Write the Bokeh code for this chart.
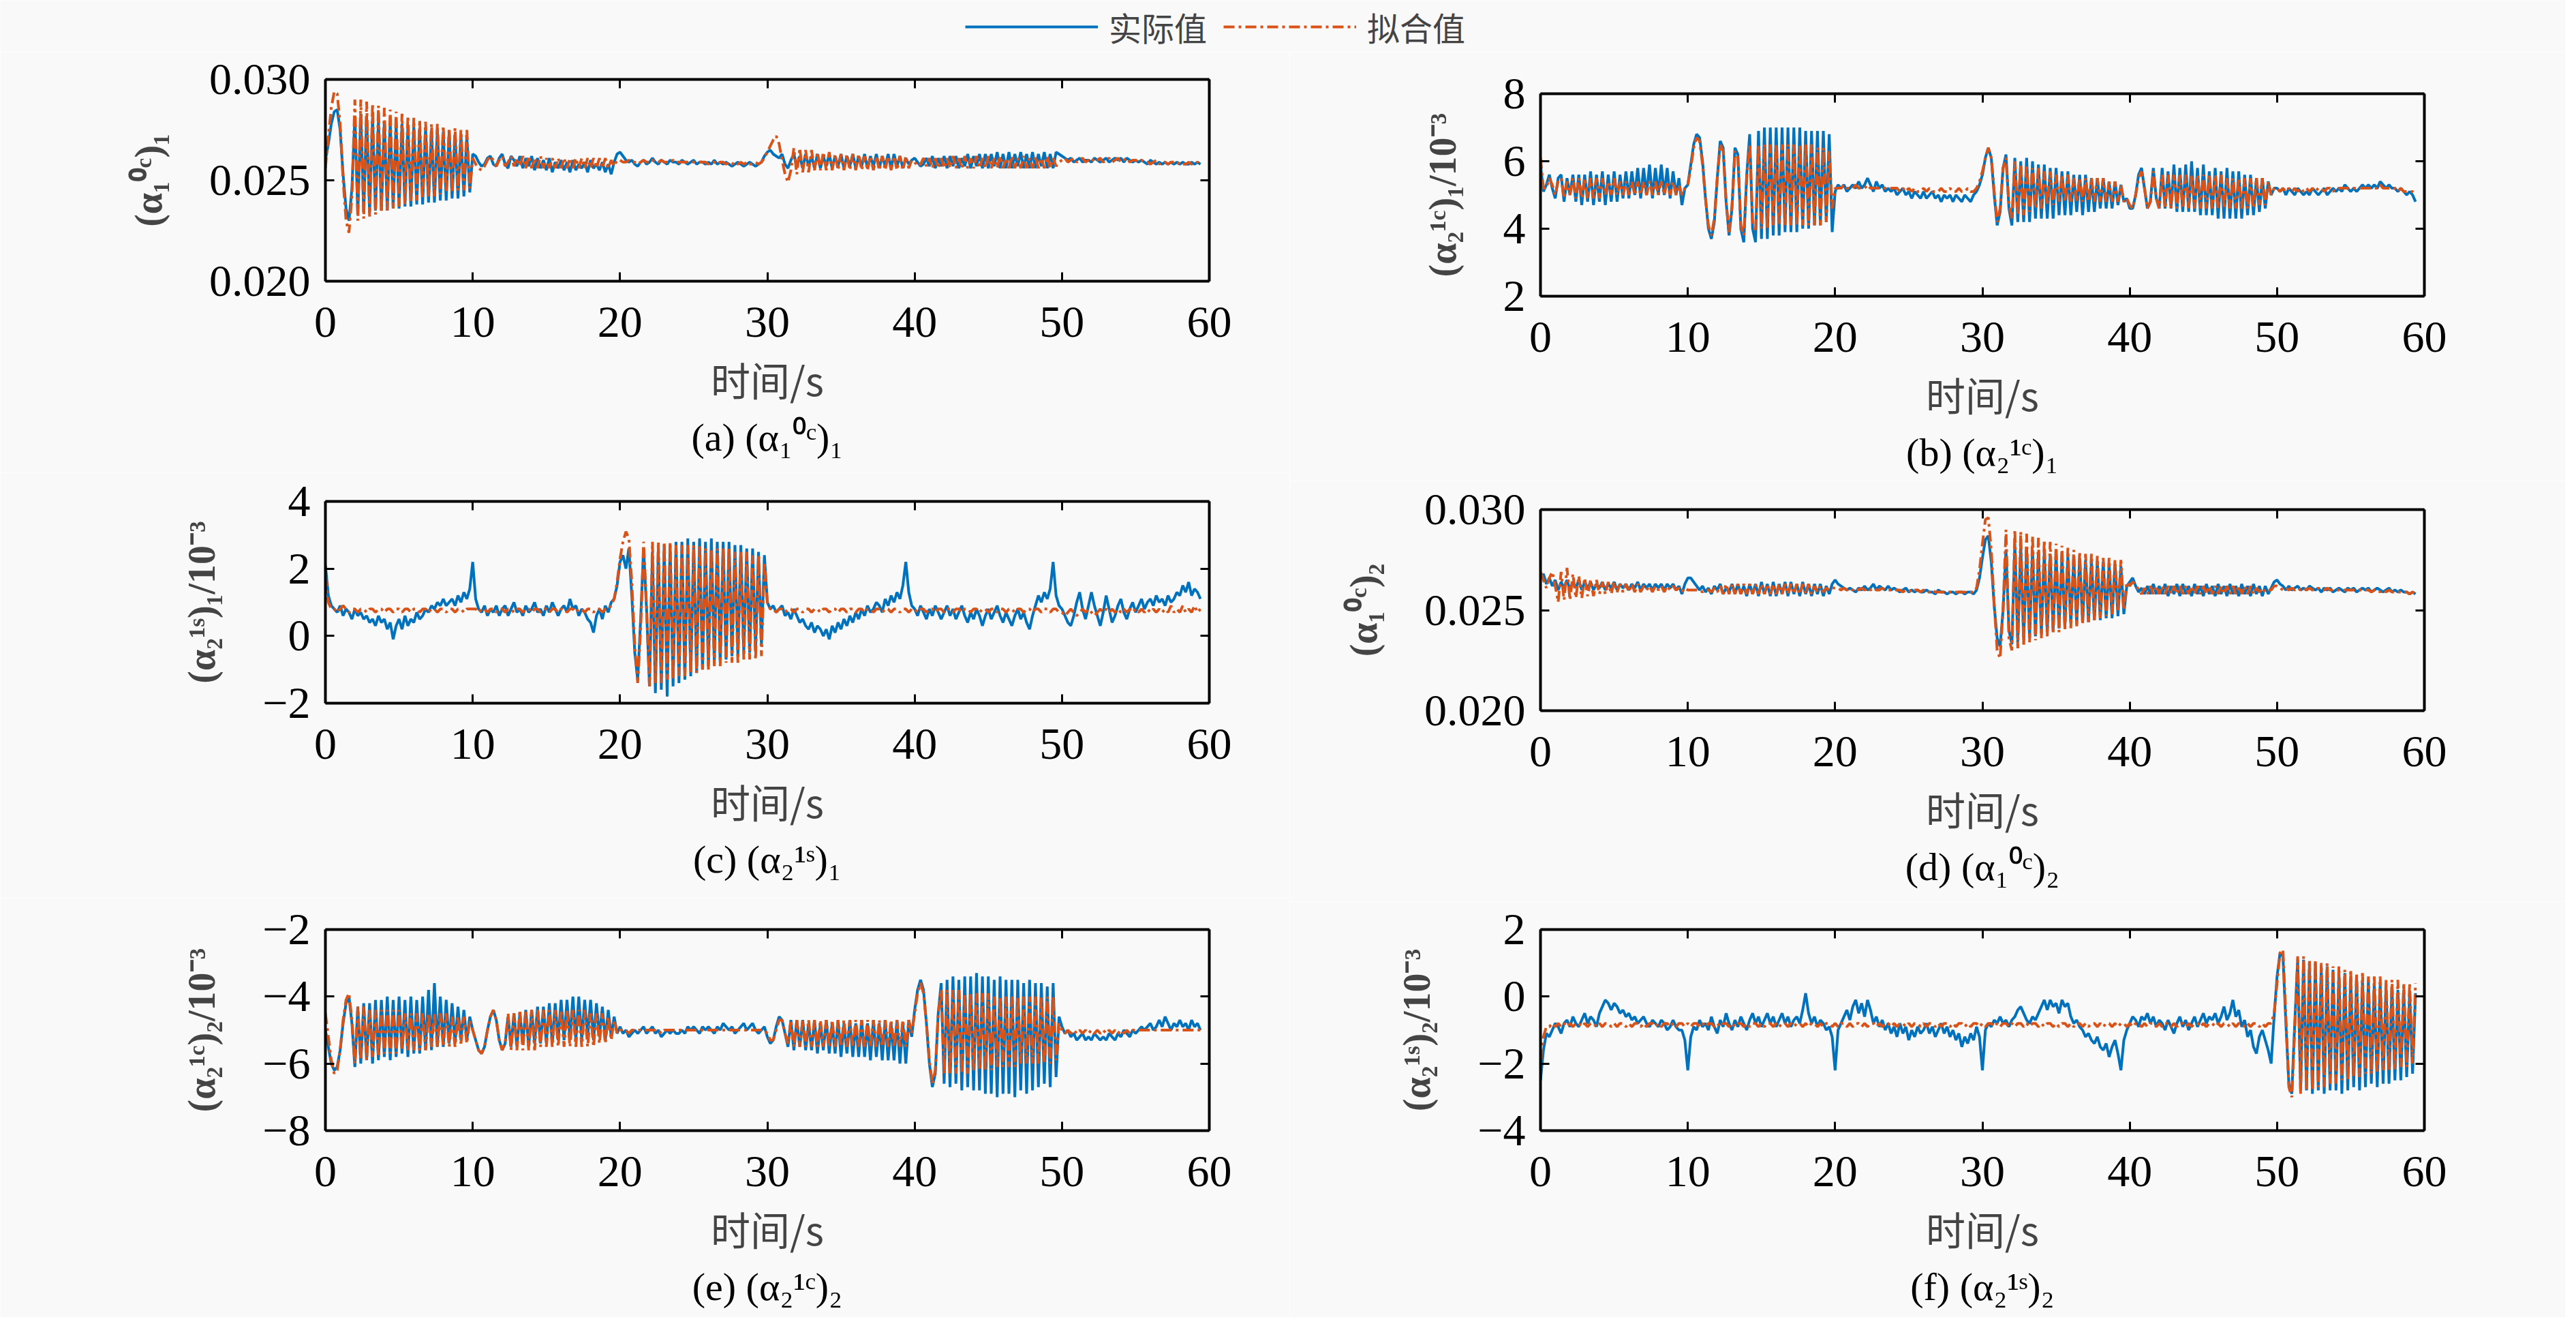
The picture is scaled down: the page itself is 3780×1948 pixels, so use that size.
import numpy as np
from bokeh.plotting import figure
from bokeh.models import (LinearAxis, FixedTicker, NumeralTickFormatter, Range1d,
                          Title, Legend, LegendItem)
from bokeh.layouts import column, row
from bokeh.embed import file_html
from bokeh.resources import INLINE

# traces on a 0.2 s grid, values in units of 1e-3
DT = 0.2

a_act = [
    26.0, 26.8, 27.8, 28.4, 28.5, 27.5, 25.3, 23.6, 23.0, 24.6,
    28.2, 23.3, 28.3, 23.4, 28.2, 23.4, 28.1, 23.5, 28.0, 23.5,
    27.9, 23.5, 27.9, 23.6, 27.8, 23.6, 27.8, 23.7, 27.7, 23.7,
    27.7, 23.8, 27.6, 23.8, 27.6, 23.9, 27.5, 23.9, 27.5, 24.0,
    27.4, 24.0, 27.4, 24.1, 27.3, 24.1, 27.3, 24.2, 27.2, 24.4,
    26.3, 26.2, 25.9, 25.7, 25.8, 26.1, 26.2, 25.8, 25.7, 26.1,
    26.3, 25.8, 25.6, 26.2, 26.0, 25.7, 26.2, 25.6, 26.1, 25.7,
    26.2, 25.5, 26.1, 25.6, 26.0, 25.5, 26.1, 25.4, 25.9, 25.6,
    26.0, 25.5, 25.9, 25.4, 26.0, 25.5, 25.8, 25.6, 25.9, 25.4,
    26.0, 25.6, 25.8, 25.5, 25.9, 25.4, 25.8, 25.3, 25.9, 26.3,
    26.4, 26.2, 26.0, 25.9, 26.0, 25.8, 25.7, 25.9, 26.0, 25.8,
    25.9, 26.1, 25.9, 25.8, 26.0, 25.9, 25.8, 26.0, 25.9, 25.9,
    25.8, 26.0, 25.9, 25.8, 25.9, 26.0, 25.8, 25.9, 25.9, 25.8,
    25.9, 25.8, 26.0, 25.8, 25.9, 25.8, 25.9, 25.8, 25.7, 25.8,
    25.9, 25.8, 25.7, 25.8, 25.9, 25.8, 25.7, 25.8, 25.9, 26.2,
    26.4, 26.5, 26.3, 26.2, 26.1, 26.3, 25.8, 25.6, 26.0, 26.3,
    25.7, 26.2, 25.6, 26.3, 25.7, 26.2, 25.6, 26.3, 25.6, 26.2,
    25.7, 26.3, 25.6, 26.2, 25.7, 26.3, 25.6, 26.2, 25.7, 26.3,
    25.6, 26.2, 25.7, 26.3, 25.6, 26.2, 25.7, 26.3, 25.6, 26.2,
    25.7, 26.3, 25.6, 26.3, 25.7, 26.2, 25.6, 26.1, 25.8, 26.0,
    26.1, 25.9, 25.7, 25.8, 26.1, 25.7, 26.2, 25.6, 26.1, 25.7,
    26.2, 25.6, 26.2, 25.7, 26.2, 25.6, 26.1, 25.7, 26.3, 25.6,
    26.2, 25.7, 26.3, 25.6, 26.3, 25.6, 26.3, 25.7, 26.4, 25.6,
    26.3, 25.6, 26.4, 25.6, 26.3, 25.7, 26.4, 25.6, 26.3, 25.6,
    26.4, 25.6, 26.3, 25.7, 26.4, 25.6, 26.3, 25.6, 26.4, 26.3,
    26.2, 26.1, 26.0, 26.1, 25.9, 26.0, 26.1, 25.9, 26.0, 26.0,
    25.9, 26.1, 26.0, 25.9, 26.0, 26.1, 25.9, 26.0, 26.1, 26.0,
    26.1, 25.9, 26.1, 26.0, 25.9, 26.0, 25.9, 26.0, 25.9, 25.8,
    26.0, 25.9, 25.8, 25.9, 25.8, 25.9, 25.8, 25.9, 25.8, 25.9,
    25.8, 25.9, 25.8, 25.8, 25.9, 25.8, 25.9, 25.8,
]
a_fit = [
    25.6, 27.2, 28.6, 29.4, 29.3, 27.8, 25.0, 23.0, 22.4, 24.2,
    29.0, 23.0, 29.0, 23.1, 28.9, 23.2, 28.8, 23.3, 28.7, 23.4,
    28.6, 23.5, 28.5, 23.6, 28.4, 23.7, 28.3, 23.8, 28.2, 23.9,
    28.1, 24.0, 28.0, 24.1, 27.9, 24.2, 27.8, 24.2, 27.8, 24.3,
    27.7, 24.4, 27.6, 24.4, 27.6, 24.5, 27.5, 24.5, 27.5, 24.6,
    26.1, 25.8, 25.6, 25.5, 25.7, 26.0, 26.2, 26.0, 25.7, 26.0,
    26.2, 25.7, 25.9, 26.2, 25.7, 26.1, 25.7, 26.2, 25.6, 26.2,
    25.6, 26.1, 25.6, 26.2, 25.6, 26.1, 25.6, 26.1, 25.6, 26.1,
    25.6, 26.1, 25.6, 26.1, 25.6, 26.1, 25.6, 26.1, 25.6, 26.1,
    25.6, 26.1, 25.6, 26.1, 25.6, 26.1, 25.6, 26.0, 25.7, 26.0,
    26.0, 25.9, 25.9, 26.0, 25.9, 25.9, 25.8, 25.9, 26.0, 25.9,
    25.9, 26.0, 25.9, 25.9, 26.0, 25.9, 25.9, 25.9, 26.0, 25.9,
    25.9, 25.9, 25.9, 25.9, 25.9, 25.9, 25.9, 25.9, 25.9, 25.9,
    25.8, 25.9, 25.9, 25.8, 25.9, 25.9, 25.8, 25.9, 25.8, 25.9,
    25.8, 25.9, 25.8, 25.9, 25.8, 25.8, 25.9, 25.8, 25.9, 26.1,
    26.4, 26.7, 27.0, 27.2, 26.8, 26.0, 25.3, 24.9, 25.5, 26.6,
    25.3, 26.6, 25.4, 26.5, 25.4, 26.5, 25.5, 26.4, 25.5, 26.4,
    25.5, 26.4, 25.5, 26.3, 25.5, 26.3, 25.5, 26.3, 25.5, 26.3,
    25.5, 26.3, 25.5, 26.2, 25.5, 26.2, 25.5, 26.2, 25.5, 26.2,
    25.5, 26.2, 25.5, 26.2, 25.5, 26.2, 25.5, 26.2, 25.6, 26.0,
    25.9, 25.7, 25.8, 26.1, 25.7, 26.1, 25.6, 26.1, 25.6, 26.1,
    25.6, 26.1, 25.6, 26.2, 25.6, 26.1, 25.6, 26.2, 25.6, 26.1,
    25.6, 26.2, 25.6, 26.1, 25.6, 26.2, 25.6, 26.1, 25.6, 26.2,
    25.6, 26.1, 25.6, 26.2, 25.6, 26.1, 25.6, 26.2, 25.6, 26.1,
    25.6, 26.2, 25.6, 26.1, 25.6, 26.2, 25.6, 26.1, 25.7, 25.9,
    26.0, 26.1, 25.9, 26.0, 26.1, 25.9, 26.0, 26.1, 25.9, 26.0,
    26.1, 25.9, 26.0, 26.1, 25.9, 26.0, 26.1, 25.9, 26.0, 26.1,
    25.9, 26.0, 26.1, 25.9, 26.0, 26.0, 25.9, 26.0, 25.9, 25.9,
    25.8, 25.9, 26.0, 25.8, 25.9, 25.9, 25.8, 25.9, 25.9, 25.8,
    25.9, 25.8, 25.8, 25.9, 25.8, 25.8, 25.9, 25.8,
]

b_act = [
    5.9, 5.1, 5.3, 5.6, 5.2, 4.9, 5.5, 5.6, 4.8, 5.5,
    5.0, 5.6, 4.8, 5.6, 4.7, 5.6, 4.8, 5.7, 4.7, 5.6,
    4.8, 5.7, 4.7, 5.6, 4.8, 5.7, 4.8, 5.6, 4.9, 5.7,
    4.9, 5.7, 5.0, 5.8, 4.9, 5.8, 5.0, 5.9, 4.9, 5.8,
    5.0, 5.9, 5.0, 5.8, 4.9, 5.7, 5.0, 5.5, 4.7, 5.2,
    5.3, 5.9, 6.5, 6.8, 6.7, 6.0, 4.9, 4.0, 3.7, 4.2,
    5.5, 6.6, 6.4, 4.8, 3.8, 4.6, 6.4, 6.2, 4.0, 3.6,
    5.6, 6.8, 4.0, 3.6, 6.9, 3.7, 7.0, 3.7, 7.0, 3.8,
    7.0, 3.8, 7.0, 3.9, 7.0, 3.9, 7.0, 3.9, 7.0, 4.0,
    6.9, 4.0, 6.9, 4.1, 6.9, 4.1, 6.9, 4.2, 6.8, 3.9,
    5.1, 5.3, 5.2, 5.3, 5.1, 5.2, 5.3, 5.2, 5.4, 5.2,
    5.3, 5.5, 5.3, 5.1, 5.4, 5.2, 5.3, 5.1, 5.2, 5.1,
    5.2, 5.0, 5.1, 5.2, 5.0, 5.1, 4.9, 5.1, 5.0, 4.9,
    5.1, 4.9, 5.0, 5.1, 4.9, 5.0, 4.8, 5.0, 4.9, 5.0,
    4.8, 5.0, 4.9, 4.8, 5.0, 4.9, 4.8, 5.0, 5.1, 5.3,
    5.6, 6.1, 6.4, 6.1, 5.0, 4.1, 4.5, 5.8, 6.2, 4.6,
    4.1, 6.1, 4.2, 6.0, 4.2, 6.1, 4.2, 6.0, 4.3, 5.9,
    4.3, 5.9, 4.3, 5.8, 4.3, 5.8, 4.4, 5.7, 4.4, 5.7,
    4.4, 5.6, 4.5, 5.6, 4.4, 5.6, 4.5, 5.5, 4.5, 5.5,
    4.6, 5.5, 4.6, 5.4, 4.6, 5.4, 4.7, 5.3, 4.8, 4.9,
    4.6, 4.6, 5.0, 5.6, 5.8, 5.2, 4.6, 4.8, 5.8, 4.9,
    4.6, 5.8, 4.6, 5.7, 4.6, 5.9, 4.5, 5.8, 4.5, 5.9,
    4.5, 6.0, 4.5, 5.8, 4.4, 5.9, 4.4, 5.7, 4.4, 5.8,
    4.3, 5.7, 4.3, 5.8, 4.3, 5.7, 4.3, 5.7, 4.3, 5.6,
    4.4, 5.6, 4.4, 5.5, 4.5, 5.5, 4.6, 5.4, 5.0, 5.2,
    5.2, 5.1, 5.2, 5.0, 5.2, 5.1, 5.0, 5.2, 5.1, 5.0,
    5.1, 5.0, 5.2, 5.1, 5.0, 5.1, 5.2, 5.0, 5.1, 5.2,
    5.1, 5.2, 5.1, 5.3, 5.2, 5.1, 5.2, 5.1, 5.2, 5.3,
    5.2, 5.3, 5.2, 5.3, 5.2, 5.4, 5.3, 5.2, 5.3, 5.2,
    5.2, 5.1, 5.2, 5.1, 5.0, 5.1, 5.0, 4.8,
]
b_fit = [
    6.1, 5.2, 5.2, 5.5, 5.3, 5.0, 5.4, 5.5, 4.9, 5.4,
    5.0, 5.5, 4.9, 5.5, 4.9, 5.5, 4.9, 5.5, 4.9, 5.5,
    4.9, 5.5, 5.0, 5.4, 5.0, 5.5, 5.0, 5.4, 5.0, 5.4,
    5.0, 5.4, 5.0, 5.4, 5.0, 5.4, 5.0, 5.4, 5.0, 5.4,
    5.0, 5.4, 5.0, 5.4, 5.0, 5.4, 5.0, 5.3, 5.0, 5.2,
    5.3, 5.8, 6.4, 6.7, 6.6, 5.9, 4.9, 4.1, 3.8, 4.3,
    5.5, 6.5, 6.3, 4.8, 3.9, 4.7, 6.3, 6.1, 4.1, 3.8,
    5.5, 6.5, 4.2, 3.9, 6.5, 4.0, 6.5, 4.0, 6.5, 4.1,
    6.5, 4.1, 6.5, 4.1, 6.5, 4.1, 6.5, 4.1, 6.5, 4.1,
    6.5, 4.1, 6.5, 4.1, 6.4, 4.1, 6.4, 4.2, 6.3, 4.6,
    5.2, 5.2, 5.2, 5.3, 5.2, 5.2, 5.2, 5.3, 5.2, 5.2,
    5.2, 5.3, 5.2, 5.2, 5.2, 5.2, 5.2, 5.2, 5.2, 5.2,
    5.2, 5.2, 5.1, 5.2, 5.1, 5.2, 5.1, 5.2, 5.1, 5.1,
    5.2, 5.1, 5.2, 5.1, 5.1, 5.1, 5.2, 5.1, 5.1, 5.2,
    5.1, 5.1, 5.2, 5.1, 5.1, 5.2, 5.1, 5.1, 5.2, 5.4,
    5.7, 6.1, 6.4, 6.1, 5.1, 4.2, 4.6, 5.8, 6.1, 4.7,
    4.3, 6.0, 4.4, 5.9, 4.4, 5.9, 4.5, 5.8, 4.6, 5.8,
    4.6, 5.7, 4.7, 5.7, 4.7, 5.6, 4.8, 5.6, 4.8, 5.6,
    4.8, 5.5, 4.8, 5.5, 4.8, 5.5, 4.8, 5.5, 4.8, 5.5,
    4.8, 5.5, 4.8, 5.4, 4.8, 5.4, 4.8, 5.3, 4.8, 4.9,
    4.7, 4.6, 5.0, 5.5, 5.7, 5.2, 4.6, 4.8, 5.7, 4.9,
    4.6, 5.6, 4.6, 5.6, 4.6, 5.6, 4.6, 5.6, 4.6, 5.6,
    4.6, 5.6, 4.6, 5.6, 4.6, 5.6, 4.6, 5.6, 4.6, 5.6,
    4.6, 5.6, 4.6, 5.5, 4.6, 5.5, 4.6, 5.5, 4.6, 5.5,
    4.6, 5.5, 4.6, 5.5, 4.7, 5.5, 4.7, 5.4, 5.0, 5.2,
    5.2, 5.1, 5.2, 5.1, 5.2, 5.1, 5.2, 5.1, 5.2, 5.1,
    5.2, 5.1, 5.2, 5.1, 5.2, 5.2, 5.1, 5.2, 5.2, 5.1,
    5.2, 5.2, 5.2, 5.2, 5.2, 5.2, 5.2, 5.2, 5.2, 5.2,
    5.2, 5.2, 5.2, 5.2, 5.2, 5.3, 5.2, 5.2, 5.2, 5.2,
    5.2, 5.1, 5.2, 5.1, 5.1, 5.1, 5.1, 5.0,
]

c_act = [
    2.1, 1.2, 0.9, 0.8, 0.7, 0.9, 0.6, 0.8, 0.7, 0.5,
    0.8, 0.6, 0.7, 0.5, 0.6, 0.4, 0.5, 0.3, 0.6, 0.4,
    0.5, 0.2, 0.4, -0.1, 0.3, 0.5, 0.2, 0.6, 0.3, 0.5,
    0.4, 0.7, 0.5, 0.6, 0.8, 0.7, 0.9, 0.8, 1.0, 0.9,
    1.1, 0.9, 1.0, 1.1, 0.9, 1.2, 1.0, 1.3, 1.1, 1.4,
    2.2, 1.1, 0.8, 0.7, 0.9, 0.6, 0.8, 0.7, 0.9, 0.6,
    0.8, 0.9, 0.6, 0.8, 1.0, 0.7, 0.8, 0.6, 0.9, 0.7,
    0.8, 1.0, 0.7, 0.8, 0.6, 0.9, 0.7, 1.0, 0.8, 0.6,
    0.8, 0.9, 0.7, 1.1, 0.8, 0.9, 0.6, 0.8, 0.7, 0.5,
    0.4, 0.1, 0.6, 0.8, 0.5, 0.9, 0.7, 1.0, 1.1, 1.5,
    2.2, 2.4, 2.0, 2.6, 1.2, -0.5, -1.3, 0.5, 2.6, 0.8,
    -1.5, 2.5, -1.7, 2.6, -1.6, 2.7, -1.8, 2.7, -1.5, 2.8,
    -1.4, 2.8, -1.3, 2.9, -1.2, 2.8, -1.1, 2.9, -1.0, 2.8,
    -0.9, 2.9, -0.8, 2.8, -0.8, 2.8, -0.7, 2.8, -0.6, 2.7,
    -0.6, 2.7, -0.5, 2.6, -0.5, 2.6, -0.4, 2.5, -0.3, 2.4,
    1.0, 0.8, 0.9, 0.7, 0.8, 0.9, 0.6, 0.7, 0.5, 0.8,
    0.6, 0.4, 0.5, 0.3, 0.2, 0.4, 0.1, 0.3, 0.2, 0.0,
    0.2, -0.1, 0.3, 0.1, 0.4, 0.2, 0.5, 0.3, 0.6, 0.4,
    0.7, 0.5, 0.8, 0.6, 0.9, 0.7, 0.8, 1.0, 0.9, 0.7,
    1.1, 0.9, 1.2, 1.0, 1.3, 1.1, 1.5, 2.2, 1.3, 0.9,
    0.8, 0.6, 0.9, 0.7, 0.5, 0.8, 0.6, 0.9, 0.7, 0.5,
    0.7, 0.9, 0.6, 0.8, 0.5, 0.7, 0.9, 0.6, 0.4, 0.7,
    0.5, 0.8, 0.6, 0.3, 0.6, 0.8, 0.5, 0.7, 0.9, 0.6,
    0.4, 0.7, 0.5, 0.3, 0.6, 0.8, 0.5, 0.7, 0.4, 0.2,
    0.6, 0.9, 1.2, 1.0, 1.3, 1.1, 1.4, 2.2, 1.2, 0.9,
    0.8, 0.6, 0.4, 0.3, 0.6, 1.0, 1.3, 0.8, 0.5, 0.9,
    1.3, 0.9, 0.6, 0.3, 0.7, 1.2, 0.8, 0.4, 0.6, 0.9,
    1.1, 0.7, 0.5, 0.8, 1.0, 0.7, 0.9, 1.1, 0.8, 1.0,
    1.1, 0.9, 1.2, 1.0, 1.1, 0.9, 1.2, 1.0, 1.1, 1.3,
    1.2, 1.5, 1.3, 1.6, 1.2, 1.4, 1.3, 1.1,
]
c_fit = [
    1.8, 1.0, 0.8, 0.8, 0.7, 0.8, 0.9, 0.8, 0.7, 0.8,
    0.8, 0.7, 0.8, 0.8, 0.7, 0.8, 0.8, 0.7, 0.8, 0.8,
    0.7, 0.8, 0.8, 0.7, 0.8, 0.8, 0.7, 0.8, 0.8, 0.7,
    0.8, 0.8, 0.7, 0.8, 0.8, 0.7, 0.8, 0.8, 0.7, 0.8,
    0.8, 0.7, 0.8, 0.8, 0.7, 0.8, 0.8, 0.7, 0.8, 0.8,
    0.8, 0.8, 0.7, 0.8, 0.8, 0.7, 0.8, 0.8, 0.7, 0.8,
    0.8, 0.7, 0.8, 0.8, 0.7, 0.8, 0.8, 0.7, 0.8, 0.8,
    0.7, 0.8, 0.8, 0.7, 0.8, 0.8, 0.7, 0.8, 0.8, 0.7,
    0.8, 0.8, 0.7, 0.8, 0.8, 0.7, 0.8, 0.8, 0.7, 0.8,
    0.8, 0.7, 0.8, 0.8, 0.7, 0.8, 0.8, 0.9, 1.1, 1.6,
    2.3, 2.8, 3.1, 2.9, 1.6, -0.3, -1.4, 0.2, 2.8, 0.9,
    -1.5, 2.8, -1.4, 2.8, -1.4, 2.8, -1.3, 2.8, -1.3, 2.7,
    -1.2, 2.7, -1.2, 2.7, -1.1, 2.7, -1.1, 2.7, -1.0, 2.6,
    -1.0, 2.6, -0.9, 2.6, -0.9, 2.6, -0.8, 2.6, -0.8, 2.5,
    -0.8, 2.5, -0.7, 2.5, -0.7, 2.4, -0.7, 2.4, -0.6, 2.2,
    1.0, 0.8, 0.8, 0.7, 0.8, 0.8, 0.7, 0.8, 0.8, 0.7,
    0.8, 0.8, 0.7, 0.8, 0.8, 0.7, 0.8, 0.8, 0.7, 0.8,
    0.8, 0.7, 0.8, 0.8, 0.7, 0.8, 0.8, 0.7, 0.8, 0.8,
    0.7, 0.8, 0.8, 0.7, 0.8, 0.8, 0.7, 0.8, 0.8, 0.7,
    0.8, 0.8, 0.7, 0.8, 0.8, 0.7, 0.8, 0.8, 0.7, 0.8,
    0.8, 0.7, 0.8, 0.8, 0.7, 0.8, 0.8, 0.7, 0.8, 0.8,
    0.7, 0.8, 0.8, 0.7, 0.8, 0.8, 0.7, 0.8, 0.8, 0.7,
    0.8, 0.8, 0.7, 0.8, 0.8, 0.7, 0.8, 0.8, 0.7, 0.8,
    0.8, 0.7, 0.8, 0.8, 0.7, 0.8, 0.8, 0.7, 0.8, 0.8,
    0.7, 0.8, 0.8, 0.7, 0.8, 0.8, 0.7, 0.8, 0.8, 0.7,
    0.7, 0.6, 0.7, 0.8, 0.7, 0.6, 0.7, 0.8, 0.7, 0.8,
    0.7, 0.6, 0.7, 0.8, 0.7, 0.8, 0.7, 0.8, 0.7, 0.8,
    0.7, 0.8, 0.7, 0.8, 0.7, 0.8, 0.7, 0.8, 0.7, 0.8,
    0.7, 0.8, 0.7, 0.8, 0.7, 0.8, 0.7, 0.9, 0.7, 0.8,
    0.7, 0.9, 0.7, 0.8, 0.7, 0.9, 0.7, 0.8,
]

d_act = [
    26.6, 26.8, 26.3, 26.6, 26.2, 26.5, 26.0, 26.4, 26.1, 26.5,
    26.0, 26.4, 26.1, 26.5, 26.0, 26.4, 26.1, 26.4, 26.0, 26.3,
    26.1, 26.4, 26.0, 26.3, 26.1, 26.4, 26.0, 26.3, 26.1, 26.3,
    26.0, 26.3, 26.1, 26.4, 26.0, 26.3, 26.1, 26.3, 26.0, 26.3,
    26.1, 26.3, 26.0, 26.3, 26.1, 26.3, 26.0, 26.2, 25.8, 26.3,
    26.6, 26.6, 26.4, 26.2, 26.0, 26.2, 25.9, 26.1, 25.8, 26.2,
    26.0, 26.3, 25.8, 26.1, 25.9, 26.3, 25.8, 26.3, 25.8, 26.2,
    25.7, 26.3, 25.8, 26.3, 25.7, 26.4, 25.8, 26.3, 25.7, 26.4,
    25.7, 26.3, 25.8, 26.4, 25.7, 26.4, 25.8, 26.3, 25.7, 26.4,
    25.8, 26.3, 25.7, 26.3, 25.8, 26.3, 25.7, 26.2, 25.8, 26.3,
    26.5, 26.3, 26.2, 26.1, 26.0, 26.1, 26.0, 25.9, 26.1, 26.0,
    26.2, 26.0, 26.1, 26.3, 26.0, 26.2, 26.1, 26.0, 26.2, 26.0,
    26.1, 26.0, 25.9, 26.0, 26.1, 25.9, 26.0, 25.9, 26.0, 25.9,
    25.9, 26.0, 25.9, 25.9, 25.8, 26.0, 25.9, 25.9, 25.8, 25.9,
    25.9, 25.8, 25.9, 25.9, 25.8, 25.9, 25.9, 25.8, 26.0, 26.6,
    27.6, 28.5, 28.7, 27.4, 25.2, 23.6, 23.2, 25.0, 28.0, 24.0,
    23.3, 28.3, 23.4, 28.2, 23.5, 28.1, 23.6, 28.0, 23.7, 27.9,
    23.8, 27.9, 23.9, 27.8, 24.0, 27.8, 24.1, 27.7, 24.2, 27.7,
    24.3, 27.6, 24.3, 27.6, 24.4, 27.5, 24.4, 27.5, 24.5, 27.4,
    24.5, 27.4, 24.6, 27.3, 24.6, 27.3, 24.7, 27.2, 24.8, 26.2,
    26.4, 26.6, 26.2, 25.9, 26.1, 25.8, 26.2, 25.8, 26.3, 25.8,
    26.2, 25.8, 26.3, 25.7, 26.2, 25.8, 26.3, 25.7, 26.3, 25.8,
    26.2, 25.7, 26.3, 25.8, 26.2, 25.7, 26.3, 25.8, 26.2, 25.7,
    26.3, 25.8, 26.2, 25.7, 26.3, 25.8, 26.2, 25.7, 26.3, 25.8,
    26.2, 25.7, 26.3, 25.8, 26.2, 25.7, 26.2, 25.8, 26.1, 26.4,
    26.5, 26.3, 26.2, 26.0, 26.2, 26.0, 26.1, 26.2, 26.0, 26.1,
    26.0, 26.2, 26.1, 26.0, 26.1, 25.9, 26.1, 26.0, 26.1, 25.9,
    26.0, 26.1, 26.0, 25.9, 26.1, 26.0, 26.1, 25.9, 26.0, 26.1,
    26.0, 26.1, 25.9, 26.0, 26.1, 26.0, 25.9, 26.0, 26.1, 25.9,
    26.0, 25.9, 26.0, 25.9, 25.9, 25.8, 25.9, 25.8,
]
d_fit = [
    26.9, 26.5, 26.1, 26.6, 26.9, 26.2, 25.4, 26.9, 25.5, 27.1,
    25.5, 26.8, 25.6, 26.7, 25.6, 26.6, 25.7, 26.5, 25.7, 26.5,
    25.8, 26.4, 25.8, 26.4, 25.8, 26.4, 25.9, 26.3, 25.9, 26.3,
    25.9, 26.3, 25.9, 26.3, 25.9, 26.2, 26.0, 26.2, 25.9, 26.2,
    26.0, 26.2, 25.9, 26.2, 26.0, 26.2, 26.0, 26.1, 25.9, 26.1,
    26.0, 26.0, 26.0, 26.0, 26.0, 25.9, 26.0, 26.0, 25.9, 26.1,
    25.9, 26.2, 25.8, 26.3, 25.8, 26.3, 25.8, 26.3, 25.8, 26.3,
    25.8, 26.3, 25.8, 26.3, 25.8, 26.3, 25.8, 26.3, 25.8, 26.3,
    25.8, 26.3, 25.8, 26.3, 25.8, 26.3, 25.8, 26.3, 25.8, 26.3,
    25.8, 26.3, 25.8, 26.2, 25.9, 26.2, 25.9, 26.1, 26.0, 26.1,
    26.1, 26.1, 26.0, 26.1, 26.0, 26.1, 26.0, 26.1, 26.0, 26.1,
    26.0, 26.1, 26.0, 26.1, 26.0, 26.0, 26.1, 26.0, 26.0, 26.0,
    26.0, 26.0, 26.0, 25.9, 26.0, 26.0, 25.9, 26.0, 26.0, 25.9,
    26.0, 25.9, 25.9, 26.0, 25.9, 25.9, 25.9, 25.9, 25.9, 25.9,
    25.9, 25.9, 25.9, 25.9, 25.9, 25.9, 25.9, 25.9, 26.1, 27.0,
    28.3, 29.5, 29.6, 28.0, 25.3, 23.0, 22.6, 25.0, 29.0, 23.6,
    23.0, 29.0, 23.1, 28.9, 23.2, 28.8, 23.4, 28.7, 23.5, 28.6,
    23.6, 28.5, 23.7, 28.4, 23.8, 28.3, 23.9, 28.2, 24.0, 28.1,
    24.1, 28.0, 24.2, 27.9, 24.3, 27.8, 24.4, 27.8, 24.5, 27.7,
    24.6, 27.6, 24.7, 27.6, 24.8, 27.5, 24.9, 27.5, 25.0, 26.4,
    26.2, 26.4, 26.3, 26.0, 25.8, 26.1, 25.8, 26.2, 25.8, 26.2,
    25.8, 26.2, 25.8, 26.2, 25.8, 26.2, 25.8, 26.2, 25.8, 26.2,
    25.8, 26.2, 25.8, 26.2, 25.8, 26.2, 25.8, 26.2, 25.8, 26.2,
    25.8, 26.2, 25.8, 26.2, 25.8, 26.2, 25.8, 26.2, 25.8, 26.2,
    25.8, 26.2, 25.8, 26.1, 25.9, 26.1, 25.9, 26.0, 26.0, 26.2,
    26.2, 26.1, 26.0, 26.1, 26.0, 26.1, 26.0, 26.1, 26.0, 26.1,
    26.0, 26.1, 26.0, 26.0, 26.1, 26.0, 26.0, 26.1, 26.0, 26.0,
    26.0, 26.0, 26.0, 26.0, 26.0, 26.0, 26.0, 26.0, 26.0, 26.0,
    26.0, 26.0, 25.9, 26.0, 26.0, 25.9, 26.0, 25.9, 26.0, 25.9,
    25.9, 25.9, 25.9, 25.9, 25.9, 25.8, 25.9, 25.8,
]

e_act = [
    -5.0, -5.5, -6.0, -6.2, -6.1, -5.6, -4.8, -4.2, -4.0, -4.8,
    -6.1, -4.3, -6.0, -4.2, -5.9, -4.2, -6.0, -4.1, -5.9, -4.1,
    -5.8, -4.0, -5.9, -4.1, -5.8, -4.0, -5.7, -4.1, -5.8, -4.0,
    -5.7, -4.1, -5.7, -4.0, -5.6, -3.8, -5.6, -3.6, -5.5, -4.0,
    -5.5, -4.1, -5.4, -4.2, -5.4, -4.3, -5.3, -4.4, -5.3, -4.6,
    -5.0, -5.3, -5.6, -5.7, -5.5, -5.0, -4.6, -4.4, -4.7, -5.3,
    -5.6, -5.4, -4.6, -5.5, -4.5, -5.5, -4.5, -5.4, -4.4, -5.5,
    -4.4, -5.4, -4.3, -5.4, -4.3, -5.4, -4.2, -5.4, -4.2, -5.3,
    -4.1, -5.3, -4.1, -5.3, -4.0, -5.3, -4.0, -5.3, -4.1, -5.2,
    -4.1, -5.3, -4.2, -5.2, -4.3, -5.3, -4.4, -5.2, -4.6, -5.1,
    -4.9, -5.1, -5.0, -5.2, -5.1, -5.0, -5.1, -5.0, -4.9, -5.1,
    -5.0, -4.9, -5.1, -5.0, -5.2, -5.1, -5.0, -5.1, -5.0, -5.1,
    -5.1, -5.0, -5.1, -4.9, -5.0, -4.9, -5.0, -5.1, -4.9, -5.0,
    -4.9, -5.0, -5.1, -4.9, -5.0, -4.8, -4.9, -5.0, -4.9, -5.1,
    -5.0, -4.9, -4.8, -5.0, -4.9, -4.8, -5.0, -5.1, -5.0, -4.9,
    -5.2, -5.4, -5.3, -4.9, -4.6, -4.7, -5.1, -5.5, -4.7, -5.6,
    -4.7, -5.5, -4.7, -5.6, -4.8, -5.6, -4.7, -5.7, -4.8, -5.6,
    -4.7, -5.7, -4.8, -5.7, -4.7, -5.8, -4.8, -5.7, -4.7, -5.8,
    -4.8, -5.8, -4.7, -5.8, -4.8, -5.9, -4.7, -5.8, -4.8, -5.9,
    -4.7, -5.9, -4.8, -5.9, -4.7, -6.0, -4.8, -6.0, -4.7, -5.2,
    -4.4, -3.8, -3.5, -3.8, -4.8, -6.0, -6.7, -6.3, -4.5, -3.6,
    -6.6, -3.5, -6.7, -3.4, -6.6, -3.5, -6.8, -3.4, -6.7, -3.4,
    -6.8, -3.3, -6.8, -3.4, -6.9, -3.4, -6.9, -3.5, -7.0, -3.4,
    -6.9, -3.5, -6.9, -3.5, -7.0, -3.5, -6.8, -3.6, -6.9, -3.5,
    -6.8, -3.6, -6.7, -3.6, -6.6, -3.7, -6.7, -3.6, -6.4, -4.6,
    -4.9, -5.1, -5.0, -5.2, -5.1, -5.3, -5.2, -5.1, -5.3, -5.2,
    -5.3, -5.1, -5.2, -5.3, -5.2, -5.3, -5.1, -5.2, -5.3, -5.1,
    -5.2, -5.0, -5.1, -5.2, -5.0, -5.1, -5.0, -4.9, -5.0, -4.9,
    -4.8, -5.0, -4.9, -4.7, -4.9, -4.6, -4.8, -5.0, -4.8, -4.9,
    -4.7, -4.9, -4.8, -5.0, -4.7, -4.9, -4.8, -5.0,
]
e_fit = [
    -4.5, -5.2, -5.9, -6.3, -6.2, -5.6, -4.7, -4.1, -3.9, -4.7,
    -6.0, -4.3, -5.9, -4.3, -5.9, -4.4, -5.8, -4.4, -5.8, -4.4,
    -5.7, -4.4, -5.7, -4.4, -5.7, -4.4, -5.6, -4.5, -5.6, -4.5,
    -5.6, -4.5, -5.6, -4.5, -5.6, -4.5, -5.5, -4.5, -5.5, -4.5,
    -5.5, -4.5, -5.5, -4.6, -5.5, -4.6, -5.4, -4.6, -5.4, -4.7,
    -5.0, -5.3, -5.6, -5.7, -5.5, -5.0, -4.6, -4.4, -4.7, -5.3,
    -5.6, -5.4, -4.5, -5.6, -4.5, -5.6, -4.4, -5.6, -4.4, -5.6,
    -4.4, -5.6, -4.4, -5.5, -4.4, -5.5, -4.4, -5.5, -4.4, -5.5,
    -4.4, -5.5, -4.4, -5.5, -4.4, -5.5, -4.4, -5.5, -4.4, -5.5,
    -4.5, -5.5, -4.5, -5.4, -4.5, -5.4, -4.6, -5.3, -4.7, -5.1,
    -5.0, -5.0, -5.0, -5.1, -5.0, -5.0, -5.0, -5.0, -5.0, -5.0,
    -5.0, -5.0, -5.0, -5.0, -5.1, -5.0, -5.0, -5.0, -5.0, -5.0,
    -5.0, -5.0, -5.0, -5.0, -5.0, -5.0, -5.0, -5.0, -5.0, -5.0,
    -5.0, -5.0, -5.0, -5.0, -5.0, -5.0, -5.0, -5.0, -5.0, -5.0,
    -5.0, -5.0, -5.0, -5.0, -5.0, -5.0, -5.0, -5.0, -5.0, -5.0,
    -5.1, -5.3, -5.3, -5.0, -4.7, -4.7, -5.1, -5.4, -4.7, -5.5,
    -4.7, -5.5, -4.7, -5.5, -4.7, -5.5, -4.7, -5.5, -4.7, -5.5,
    -4.7, -5.5, -4.7, -5.5, -4.7, -5.5, -4.7, -5.5, -4.7, -5.5,
    -4.7, -5.5, -4.7, -5.5, -4.7, -5.5, -4.7, -5.5, -4.7, -5.5,
    -4.7, -5.5, -4.7, -5.5, -4.7, -5.5, -4.7, -5.5, -4.7, -5.1,
    -4.5, -3.9, -3.6, -3.9, -4.8, -5.9, -6.6, -6.2, -4.5, -3.8,
    -6.3, -3.8, -6.3, -3.8, -6.3, -3.8, -6.3, -3.9, -6.3, -3.9,
    -6.2, -3.9, -6.2, -3.9, -6.2, -3.9, -6.2, -4.0, -6.1, -4.0,
    -6.1, -4.0, -6.1, -4.0, -6.1, -4.0, -6.0, -4.0, -6.0, -4.0,
    -6.0, -4.0, -6.0, -4.0, -6.0, -4.0, -6.0, -4.0, -5.9, -4.8,
    -5.0, -5.1, -5.0, -5.1, -5.0, -5.1, -5.0, -5.1, -5.0, -5.1,
    -5.0, -5.1, -5.0, -5.1, -5.0, -5.1, -5.0, -5.1, -5.0, -5.1,
    -5.0, -5.1, -5.0, -5.1, -5.0, -5.0, -5.0, -5.0, -5.0, -5.0,
    -5.0, -5.0, -5.0, -5.0, -5.0, -5.0, -5.0, -5.0, -5.0, -5.0,
    -5.0, -5.0, -5.0, -5.0, -5.0, -5.0, -5.0, -5.0,
]

f_act = [
    -2.5, -1.6, -1.1, -1.2, -1.0, -0.8, -0.9, -1.1, -0.8, -0.7,
    -0.9, -0.6, -0.8, -0.9, -0.7, -0.5, -0.8, -0.6, -0.7, -0.9,
    -0.5, -0.3, -0.1, -0.2, -0.4, -0.2, -0.3, -0.5, -0.4, -0.6,
    -0.5, -0.7, -0.6, -0.8, -0.7, -0.6, -0.8, -0.9, -0.7, -0.8,
    -0.9, -0.7, -0.8, -1.0, -0.9, -0.7, -0.9, -1.0, -1.0, -1.3,
    -2.2, -1.2, -0.9, -1.0, -0.7, -0.9, -0.8, -1.0, -0.6, -0.9,
    -1.1, -0.7, -0.9, -0.5, -0.8, -1.0, -0.7, -0.9, -0.6, -0.8,
    -1.0, -0.7, -0.5, -0.8, -0.6, -0.9, -0.7, -0.5, -0.8, -0.6,
    -0.9, -0.7, -0.5, -0.8, -0.6, -0.9, -0.7, -0.6, -0.8, -0.4,
    0.1, -0.5, -0.8, -0.6, -0.9, -0.7, -0.8, -1.0, -0.9, -1.2,
    -2.2, -1.0, -0.8, -0.6, -0.4, -0.7, -0.3, -0.1, -0.5, -0.2,
    -0.6, -0.1, -0.4, -0.8, -0.6, -0.9, -0.7, -1.0, -0.8, -1.1,
    -0.9, -1.2, -0.8, -1.1, -0.9, -1.3, -1.0, -1.2, -0.9, -1.1,
    -1.0, -0.8, -1.1, -0.9, -1.2, -1.0, -0.8, -1.1, -0.9, -1.2,
    -1.0, -1.3, -1.1, -1.5, -1.2, -1.4, -1.1, -1.3, -0.9, -1.2,
    -2.2, -1.0, -0.8, -0.9, -0.7, -0.8, -0.6, -0.8, -0.7, -0.9,
    -0.7, -0.6, -0.4, -0.3, -0.5, -0.7, -0.8, -0.6, -0.7, -0.5,
    -0.3, -0.1, -0.4, -0.1, -0.3, -0.2, -0.5, -0.1, -0.3, -0.2,
    -0.6, -0.8, -0.7, -0.9, -1.0, -1.2, -1.1, -1.3, -1.4, -1.2,
    -1.5, -1.6, -1.4, -1.8, -1.5, -1.3, -1.7, -2.2, -1.3, -1.0,
    -0.8, -0.6, -0.7, -0.9, -0.6, -0.7, -0.5, -0.8, -0.6, -0.9,
    -0.7, -0.8, -1.0, -0.7, -0.9, -1.1, -0.8, -0.6, -0.9, -0.7,
    -1.0, -0.8, -0.6, -0.9, -0.7, -0.5, -0.8, -0.6, -0.7, -0.5,
    -0.8, -0.6, -0.3, -0.7, -0.5, -0.1, -0.6, -0.4, -0.9, -0.7,
    -1.2, -1.0, -1.5, -1.7, -1.2, -1.0, -1.3, -1.6, -2.0, -0.6,
    0.6, 1.3, 1.2, -0.8, -2.6, -2.9, -0.8, 1.1, -2.8, 1.1,
    -2.8, 1.0, -2.9, 1.0, -2.8, 0.9, -2.9, 0.9, -2.8, 0.8,
    -2.8, 0.7, -2.9, 0.7, -2.8, 0.6, -2.7, 0.6, -2.8, 0.5,
    -2.7, 0.5, -2.6, 0.4, -2.7, 0.4, -2.6, 0.3, -2.6, 0.3,
    -2.5, 0.2, -2.5, 0.2, -2.4, 0.1, -2.3, 0.1,
]
f_fit = [
    -1.9, -1.2, -0.9, -0.9, -0.8, -0.9, -0.8, -0.9, -0.8, -0.9,
    -0.8, -0.9, -0.8, -0.8, -0.9, -0.8, -0.9, -0.8, -0.8, -0.9,
    -0.8, -0.9, -0.8, -0.8, -0.9, -0.8, -0.9, -0.8, -0.8, -0.9,
    -0.8, -0.9, -0.8, -0.8, -0.9, -0.8, -0.9, -0.8, -0.8, -0.9,
    -0.8, -0.9, -0.8, -0.8, -0.9, -0.8, -0.9, -0.8, -0.8, -0.9,
    -0.8, -0.9, -0.8, -0.8, -0.9, -0.8, -0.9, -0.8, -0.8, -0.9,
    -0.8, -0.9, -0.8, -0.8, -0.9, -0.8, -0.9, -0.8, -0.8, -0.9,
    -0.8, -0.9, -0.8, -0.8, -0.9, -0.8, -0.9, -0.8, -0.8, -0.9,
    -0.8, -0.9, -0.8, -0.8, -0.9, -0.8, -0.9, -0.8, -0.8, -0.9,
    -0.8, -0.9, -0.8, -0.8, -0.9, -0.8, -0.9, -0.8, -0.8, -0.9,
    -0.8, -0.9, -0.8, -0.8, -0.9, -0.8, -0.9, -0.8, -0.8, -0.9,
    -0.8, -0.9, -0.8, -0.8, -0.9, -0.8, -0.9, -0.8, -0.8, -0.9,
    -0.8, -0.9, -0.8, -0.8, -0.9, -0.8, -0.9, -0.8, -0.8, -0.9,
    -0.8, -0.9, -0.8, -0.8, -0.9, -0.8, -0.9, -0.8, -0.8, -0.9,
    -0.8, -0.9, -0.8, -0.8, -0.9, -0.8, -0.9, -0.8, -0.8, -0.9,
    -0.8, -0.9, -0.8, -0.8, -0.9, -0.8, -0.9, -0.8, -0.8, -0.9,
    -0.8, -0.9, -0.8, -0.8, -0.9, -0.8, -0.9, -0.8, -0.8, -0.9,
    -0.8, -0.9, -0.8, -0.8, -0.9, -0.8, -0.9, -0.8, -0.8, -0.9,
    -0.8, -0.9, -0.8, -0.8, -0.9, -0.8, -0.9, -0.8, -0.8, -0.9,
    -0.8, -0.9, -0.8, -0.8, -0.9, -0.8, -0.9, -0.8, -0.8, -0.9,
    -0.8, -0.9, -0.8, -0.8, -0.9, -0.8, -0.9, -0.8, -0.8, -0.9,
    -0.8, -0.9, -0.8, -0.8, -0.9, -0.8, -0.9, -0.8, -0.8, -0.9,
    -0.8, -0.9, -0.8, -0.8, -0.9, -0.8, -0.9, -0.8, -0.8, -0.9,
    -0.8, -0.9, -0.8, -0.8, -0.9, -0.8, -0.9, -0.8, -0.8, -0.9,
    -0.8, -0.9, -0.8, -0.8, -0.9, -0.8, -0.9, -0.8, -0.8, -0.5,
    0.4, 1.3, 1.4, -0.6, -2.7, -3.0, -1.0, 1.2, -2.9, 1.2,
    -2.8, 1.1, -2.8, 1.1, -2.7, 1.0, -2.7, 1.0, -2.6, 0.9,
    -2.6, 0.9, -2.5, 0.8, -2.5, 0.8, -2.4, 0.7, -2.4, 0.7,
    -2.3, 0.6, -2.3, 0.6, -2.3, 0.6, -2.2, 0.5, -2.2, 0.5,
    -2.2, 0.5, -2.1, 0.4, -2.1, 0.4, -2.0, 0.4,
]

x_ticks = [0, 10, 20, 30, 40, 50, 60]

BLUE = "#0072BD"
ORANGE = "#D95319"
BG = "#f9f9f9"
SERIF = "Liberation Serif"
CJK = "Noto Sans CJK SC"
FIT_DASH = "16 6 4 6"
LW = 4


def style_axis(ax, ticks, labels=True):
    ax.ticker = FixedTicker(ticks=ticks)
    ax.axis_line_width = 4
    ax.axis_line_color = "black"
    ax.major_tick_in = 13
    ax.major_tick_out = 0
    ax.major_tick_line_width = 3
    ax.major_tick_line_color = "black"
    ax.minor_tick_line_color = None
    ax.major_label_text_font = SERIF
    if labels:
        ax.major_label_text_color = "black"
        ax.major_label_text_font_size = "66px"
    else:
        # box ticks only, no labels drawn
        ax.major_label_text_color = None
        ax.major_label_text_font_size = "1px"
        ax.major_label_standoff = 0


def panel(act, fit, scale, yr, yticks, ylabel, caption, w, h, left, right, top, bottom, fmt=None):
    p = figure(width=w, height=h, x_range=Range1d(0, 60), y_range=Range1d(*yr),
               title=None, output_backend="svg", toolbar_location=None,
               min_border_left=left, min_border_right=right,
               min_border_top=top, min_border_bottom=bottom,
               background_fill_color=BG, border_fill_color=BG)
    p.grid.visible = False
    p.outline_line_color = None

    t = DT * np.arange(len(act))
    p.line(t, np.array(act) * scale, color=BLUE, line_width=LW)
    t = DT * np.arange(len(fit))
    p.line(t, np.array(fit) * scale, color=ORANGE, line_width=LW, line_dash=FIT_DASH)

    xb = p.xaxis[0]
    yl = p.yaxis[0]
    style_axis(xb, x_ticks)
    style_axis(yl, yticks)
    xb.major_label_standoff = 38
    yl.major_label_standoff = 22
    xb.axis_label = "时间/s"
    xb.axis_label_text_font = CJK
    xb.axis_label_text_font_size = "58px"
    xb.axis_label_text_font_style = "normal"
    xb.axis_label_standoff = 17
    yl.axis_label = ylabel
    yl.axis_label_text_font = SERIF
    yl.axis_label_text_font_size = "56px"
    yl.axis_label_text_font_style = "bold"
    yl.axis_label_standoff = 55
    if fmt:
        yl.formatter = NumeralTickFormatter(format=fmt)

    xt = LinearAxis()
    style_axis(xt, x_ticks, labels=False)
    p.add_layout(xt, "above")
    yr_ax = LinearAxis()
    style_axis(yr_ax, yticks, labels=False)
    p.add_layout(yr_ax, "right")

    p.add_layout(Title(text=caption, align="center", text_font=SERIF,
                       text_font_size="58px", text_font_style="normal",
                       text_color="black", standoff=13), "below")
    return p


# left column: legend 8-84, (a) 84-700, (c) 700-1325, (e) 1325-1940 (page px)
pa = panel(a_act, a_fit, 1e-3, (0.020, 0.030), [0.020, 0.025, 0.030],
           "(α₁⁰ᶜ)₁", "(a) (α₁⁰ᶜ)₁", 1892, 616, 477, 118, 40, 280, fmt="0.000")
pc = panel(c_act, c_fit, 1.0, (-2, 4), [-2, 0, 2, 4],
           "(α₂¹ˢ)₁/10⁻³", "(c) (α₂¹ˢ)₁", 1892, 625, 477, 118, 43, 286)
pe = panel(e_act, e_fit, 1.0, (-8, -2), [-8, -6, -4, -2],
           "(α₂¹ᶜ)₂/10⁻³", "(e) (α₂¹ᶜ)₂", 1892, 615, 477, 118, 46, 274)
# right column: (b) 84-713, (d) 713-1330, (f) 1330-1940
pb = panel(b_act, b_fit, 1.0, (2, 8), [2, 4, 6, 8],
           "(α₂¹ᶜ)₁/10⁻³", "(b) (α₂¹ᶜ)₁", 1872, 629, 368, 207, 61, 271)
pd = panel(d_act, d_fit, 1e-3, (0.020, 0.030), [0.020, 0.025, 0.030],
           "(α₁⁰ᶜ)₂", "(d) (α₁⁰ᶜ)₂", 1872, 617, 368, 207, 42, 280, fmt="0.000")
pf = panel(f_act, f_fit, 1.0, (-4, 2), [-4, -2, 0, 2],
           "(α₂¹ˢ)₂/10⁻³", "(f) (α₂¹ˢ)₂", 1872, 610, 368, 207, 41, 274)

# legend strip across the top; its two renderers sit outside the visible range
lg = figure(width=3764, height=76, output_backend="svg", toolbar_location=None,
            x_axis_type=None, y_axis_type=None, min_border=0,
            x_range=Range1d(0, 1), y_range=Range1d(0, 1),
            background_fill_color=BG, border_fill_color=BG)
lg.outline_line_color = None
r1 = lg.line([-5, -4], [-5, -5], color=BLUE, line_width=LW)
r2 = lg.line([-5, -4], [-5, -5], color=ORANGE, line_width=LW, line_dash=FIT_DASH)
legend = Legend(items=[LegendItem(label="实际值", renderers=[r1]),
                       LegendItem(label="拟合值", renderers=[r2])],
                orientation="horizontal", location=(1416, 2),
                label_text_font=CJK, label_text_font_size="48px",
                glyph_width=195, glyph_height=40, label_standoff=16, spacing=24,
                padding=0, margin=0, border_line_color=None, background_fill_alpha=0)
lg.add_layout(legend)

page = column(lg, row(column(pa, pc, pe), column(pb, pd, pf)))
open("out.html", "w").write(file_html(page, INLINE))
